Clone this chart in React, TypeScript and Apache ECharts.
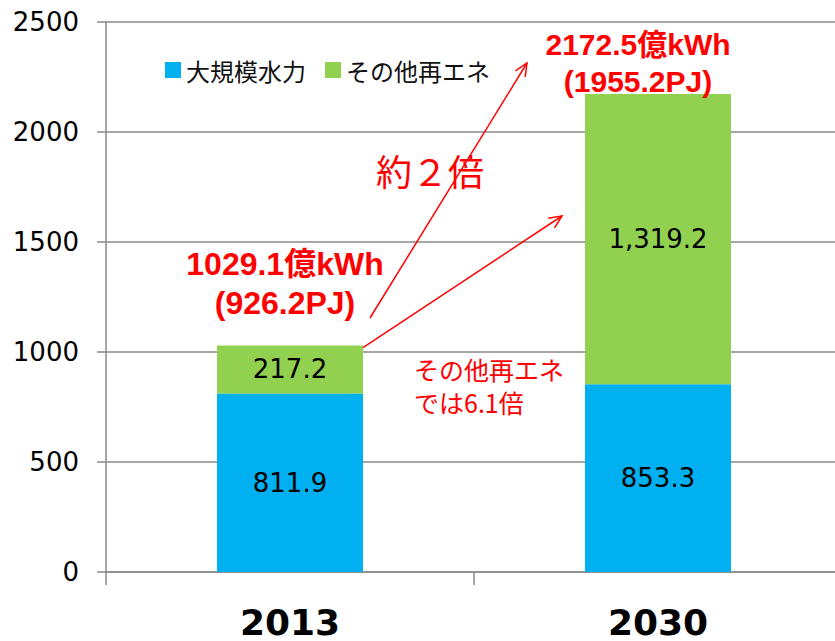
import React, { useEffect, useRef } from "react";
import * as echarts from "echarts";

const categories = ["2013", "2030"];
const seriesNames = ["大規模水力", "その他再エネ"];
const hydroValues = [811.9, 853.3];
const otherValues = [217.2, 1319.2];
const totalLabelLines = [
  ["1029.1億kWh", "(926.2PJ)"],
  ["2172.5億kWh", "(1955.2PJ)"],
];
const growthLabel = "約２倍";
const otherGrowthLines = ["その他再エネ", "では6.1倍"];
const yMin = 0;
const yMax = 2500;
const yInterval = 500;

const RED = "#ff0000";
const AXIS = "#8a8a8a";
const CJK = '"Noto Sans CJK JP", "DejaVu Sans", sans-serif';
const BOLD_FONT = '"Liberation Sans", Arial, "Noto Sans CJK JP", sans-serif';
const NUM_FONT = '"DejaVu Sans", Verdana, sans-serif';
const BAR_W = 146;

function arrow(x1: number, y1: number, x2: number, y2: number) {
  const ang = Math.atan2(y2 - y1, x2 - x1);
  const L = 14;
  const a = 0.42;
  const p1 = [x2 - L * Math.cos(ang - a), y2 - L * Math.sin(ang - a)];
  const p2 = [x2 - L * Math.cos(ang + a), y2 - L * Math.sin(ang + a)];
  return [
    { type: "line", z: 20, shape: { x1, y1, x2, y2 }, style: { stroke: RED, lineWidth: 1.5 } },
    {
      type: "polyline",
      z: 20,
      shape: { points: [p1, [x2, y2], p2] },
      style: { stroke: RED, lineWidth: 1.5, fill: null },
    },
  ];
}

function redText(text: string, x: number, y: number, size: number, bold: boolean, align = "center", family = BOLD_FONT) {
  return {
    type: "text",
    z: 20,
    x,
    y,
    style: {
      text,
      fill: RED,
      fontSize: size,
      fontWeight: bold ? "bold" : "normal",
      fontFamily: family,
      align,
      verticalAlign: "middle",
    },
  };
}

export default function App() {
  const ref = useRef<HTMLDivElement>(null);
  useEffect(() => {
    if (!ref.current) return;
    const chart = echarts.init(ref.current, undefined, { renderer: "svg" });
    const fmt = (p: any) =>
      Number(p.value).toLocaleString("en-US", { minimumFractionDigits: 1, maximumFractionDigits: 1 });
    chart.setOption({
      animation: false,
      backgroundColor: "#ffffff",
      grid: {
        left: 106,
        width: 736,
        top: 22,
        bottom: 69,
        containLabel: false,
        outerBoundsMode: "none",
      },
      legend: {
        left: 160,
        top: 53,
        itemWidth: 16,
        itemHeight: 16,
        itemGap: 19,
        icon: "rect",
        data: seriesNames,
        textStyle: { fontSize: 24, fontFamily: CJK, color: "#111" },
      },
      xAxis: {
        type: "category",
        data: categories,
        axisLine: { lineStyle: { color: AXIS, width: 1.5 } },
        axisTick: { show: true, length: 13, lineStyle: { color: AXIS, width: 1.5 } },
        axisLabel: {
          margin: 32,
          fontSize: 36,
          fontWeight: "bold",
          fontFamily: NUM_FONT,
          color: "#000",
        },
      },
      yAxis: {
        type: "value",
        min: yMin,
        max: yMax,
        interval: yInterval,
        axisLine: { show: true, lineStyle: { color: AXIS, width: 1.5 } },
        axisTick: { show: true, length: 9, lineStyle: { color: AXIS, width: 1.5 } },
        splitLine: { show: true, lineStyle: { color: AXIS, width: 1.5 } },
        axisLabel: {
          margin: 27,
          fontSize: 26,
          fontFamily: NUM_FONT,
          color: "#000",
          formatter: (v: number) => String(v),
        },
      },
      series: [
        {
          name: seriesNames[0],
          type: "bar",
          stack: "total",
          barWidth: BAR_W,
          data: hydroValues,
          itemStyle: { color: "#00b0f0" },
          label: { show: true, position: "inside", formatter: fmt, fontSize: 26, fontFamily: NUM_FONT, color: "#000" },
        },
        {
          name: seriesNames[1],
          type: "bar",
          stack: "total",
          barWidth: BAR_W,
          data: otherValues,
          itemStyle: { color: "#92d050" },
          label: { show: true, position: "inside", formatter: fmt, fontSize: 26, fontFamily: NUM_FONT, color: "#000" },
        },
      ],
    });

    const total0 = hydroValues[0] + otherValues[0];
    const barTop0 = chart.convertToPixel({ xAxisIndex: 0, yAxisIndex: 0 }, [categories[0], total0]) as number[];
    const bar0Right = barTop0[0] + BAR_W / 2;

    const graphic: any[] = [
      ...arrow(370, 318, 527, 63),
      ...arrow(bar0Right, barTop0[1] + 2, 562, 216),
      redText(totalLabelLines[0][0], 285, 264, 32, true),
      redText(totalLabelLines[0][1], 285, 303, 32, true),
      redText(totalLabelLines[1][0], 638, 44, 30, true),
      redText(totalLabelLines[1][1], 638, 81, 30, true),
      redText(growthLabel, 376, 170, 36, false, "left", CJK),
      redText(otherGrowthLines[0], 414, 369, 25, false, "left", CJK),
      redText(otherGrowthLines[1], 414, 402, 25, false, "left", CJK),
    ];
    chart.setOption({ graphic });

    return () => chart.dispose();
  }, []);
  return (
    <div
      ref={ref}
      style={{ position: "fixed", left: 0, top: 0, width: 835, height: 641, background: "#fff" }}
    />
  );
}
